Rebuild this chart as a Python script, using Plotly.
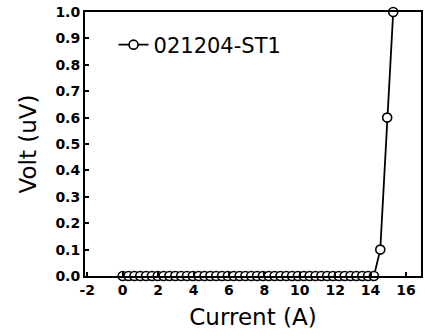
import plotly.graph_objects as go

current = [0.00, 0.33, 0.66, 0.99, 1.32, 1.65, 1.98, 2.31, 2.64, 2.97,
           3.30, 3.63, 3.96, 4.29, 4.62, 4.95, 5.28, 5.61, 5.94, 6.27,
           6.60, 6.93, 7.26, 7.59, 7.92, 8.25, 8.58, 8.91, 9.24, 9.57,
           9.90, 10.23, 10.56, 10.89, 11.22, 11.55, 11.88, 12.21, 12.54, 12.87,
           13.20, 13.53, 13.86, 14.19, 14.55, 14.94, 15.28]
volt = [0.0] * 44 + [0.10, 0.60, 1.00]
x_ticks = [-2, 0, 2, 4, 6, 8, 10, 12, 14, 16]
y_ticks = [0.0, 0.1, 0.2, 0.3, 0.4, 0.5, 0.6, 0.7, 0.8, 0.9, 1.0]
series_name = "021204-ST1"

font = "DejaVu Sans"

fig = go.Figure()
fig.add_trace(go.Scatter(
    x=current, y=volt, mode="lines+markers", name=series_name,
    line=dict(color="black", width=1.8),
    marker=dict(symbol="circle", size=9, color="white",
                line=dict(color="black", width=1.6)),
    cliponaxis=False,
))

fig.update_layout(
    width=425, height=336,
    margin=dict(l=85, r=2, t=12, b=60),
    paper_bgcolor="white", plot_bgcolor="white",
    showlegend=True,
    legend=dict(x=0.085, y=0.875, xanchor="left", yanchor="middle",
                font=dict(family=font, size=21, color="black"),
                bgcolor="rgba(0,0,0,0)", itemwidth=30),
    xaxis=dict(range=[-2.13, 16.85], tickvals=x_ticks,
               ticktext=[str(v) for v in x_ticks],
               ticks="inside", ticklen=4, tickwidth=1.5, tickcolor="black",
               showline=True, linecolor="black", linewidth=2, mirror=True,
               showgrid=False, zeroline=False,
               tickfont=dict(family=font, size=14, color="black", weight="bold"),
               title=dict(text="Current (A)", standoff=12,
                          font=dict(family=font, size=23, color="black"))),
    yaxis=dict(range=[0, 1], tickvals=y_ticks,
               ticktext=[f"{v:.1f}" for v in y_ticks],
               ticks="inside", ticklen=4, tickwidth=1.5, tickcolor="black",
               showline=True, linecolor="black", linewidth=2, mirror=True,
               showgrid=False, zeroline=False,
               tickfont=dict(family=font, size=14, color="black", weight="bold"),
               title=dict(text="Volt (uV)", standoff=12,
                          font=dict(family=font, size=23, color="black"))),
)

fig.write_html("out.html")
